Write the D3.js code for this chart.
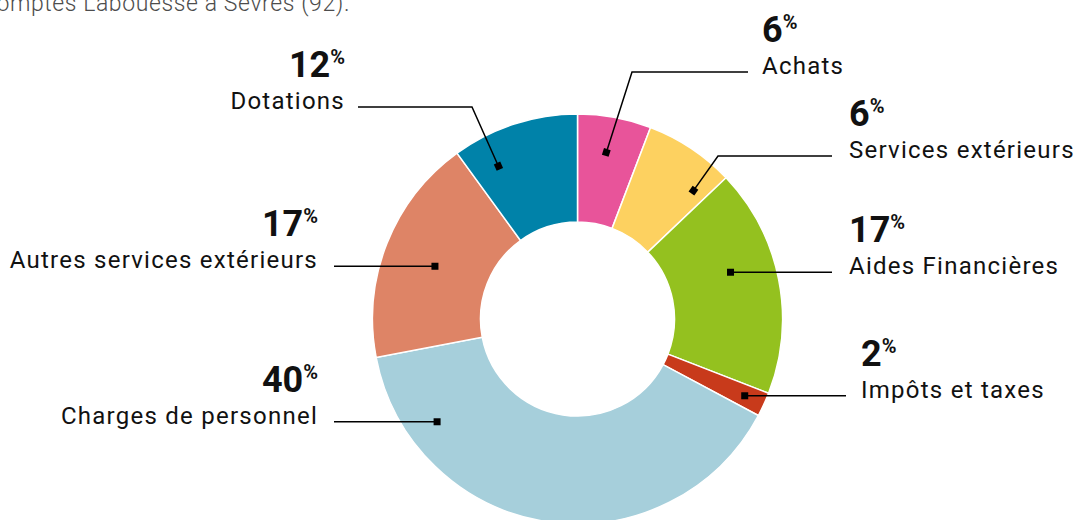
<!DOCTYPE html>
<html>
<head>
<meta charset="utf-8">
<script src="https://cdn.jsdelivr.net/npm/d3@7"></script>
<style>
  html, body { margin: 0; padding: 0; background: #fff; }
  svg { display: block; }
</style>
</head>
<body>
<div id="donut-chart"></div>
<script>
// Data (slice order clockwise from 12 o'clock)
const categories = ["Achats", "Services extérieurs", "Aides Financières", "Impôts et taxes",
                    "Charges de personnel", "Autres services extérieurs", "Dotations"];
const values = [5.8, 7.1, 18.0, 1.9, 39.2, 18.0, 10.0];
const percentLabels = ["6", "6", "17", "2", "40", "17", "12"];
const colors = ["#e8549a", "#fdd160", "#94c11f", "#c83a1b", "#a6cfdb", "#de8466", "#0082a9"];
const sourceNote = "Comptes Labouesse à Sèvres (92).";

function renderDonutChart() {
    const width = 1078;
    const height = 520;
    const cx = 577.5, cy = 319;
    const outerR = 205, innerR = 97;

    const svg = d3.select("#donut-chart").append("svg")
        .attr("width", width)
        .attr("height", height);

    // source note, cut at the top-left like the original
    svg.append("text")
        .attr("x", 350)
        .attr("y", 11)
        .attr("text-anchor", "end")
        .style("font-family", "Roboto, sans-serif")
        .style("font-weight", 300)
        .style("font-size", "23px")
        .style("letter-spacing", "0.6px")
        .style("fill", "#4d4d4d")
        .text(sourceNote);

    const data = categories.map((c, i) => ({ label: c, value: values[i], pct: percentLabels[i], color: colors[i] }));

    const pie = d3.pie().value(d => d.value).sort(null);
    const arcs = pie(data);

    const arcGenerator = d3.arc().innerRadius(innerR).outerRadius(outerR);

    const g = svg.append("g").attr("transform", `translate(${cx},${cy})`);

    g.selectAll(".slice")
        .data(arcs)
        .enter().append("path")
        .attr("class", "slice")
        .attr("d", arcGenerator)
        .attr("fill", d => d.data.color)
        .style("stroke", "#fff")
        .style("stroke-width", "1.5px");

    // annotation layout: where the marker sits inside its slice and where the label goes
    const layout = [
        { t: 0.47, r: 169, lineY: 72,  elbowX: 632, endX: 748, textX: 762, side: "right" },
        { t: 0.83, r: 173, lineY: 156, elbowX: 718, endX: 832, textX: 849, side: "right" },
        { t: 0.41, r: 160, endX: 832, textX: 849, side: "right" },
        { t: 0.50, r: 184, endX: 846, textX: 861, side: "right" },
        { t: 0.82, r: 174, endX: 334, textX: 318, side: "left" },
        { t: 0.48, r: 152, endX: 334, textX: 318, side: "left" },
        { t: 0.24, r: 172, lineY: 107, elbowX: 472, endX: 358, textX: 345, side: "left" }
    ];

    const ann = svg.append("g");

    arcs.forEach((d, i) => {
        const L = layout[i];
        const a = d.startAngle + (d.endAngle - d.startAngle) * L.t;
        const pt = d3.arc().innerRadius(L.r).outerRadius(L.r).startAngle(a).endAngle(a).centroid();
        const mx = cx + pt[0], my = cy + pt[1];
        const lineY = L.lineY !== undefined ? L.lineY : my;

        const pts = [[mx, my]];
        if (L.elbowX !== undefined) pts.push([L.elbowX, lineY]);
        pts.push([L.endX, lineY]);

        ann.append("polyline")
            .attr("points", pts.map(p => p.join(",")).join(" "))
            .style("fill", "none")
            .style("stroke", "#000")
            .style("stroke-width", 1.5);

        // marker square follows the direction of the first leg of its line
        const rot = Math.atan2(pts[1][1] - my, pts[1][0] - mx) * 180 / Math.PI;
        ann.append("rect")
            .attr("x", mx - 3.5)
            .attr("y", my - 3.5)
            .attr("width", 7)
            .attr("height", 7)
            .attr("transform", `rotate(${rot},${mx},${my})`)
            .style("fill", "#000");

        const anchor = L.side === "right" ? "start" : "end";

        ann.append("text")
            .attr("x", L.textX)
            .attr("y", lineY + 2)
            .attr("text-anchor", anchor)
            .style("font-family", "Roboto, sans-serif")
            .style("font-size", "24px")
            .style("letter-spacing", "1.25px")
            .style("fill", "#111")
            .text(d.data.label);

        const pctText = ann.append("text")
            .attr("x", L.textX)
            .attr("y", lineY - 30)
            .attr("text-anchor", anchor)
            .style("font-family", "Roboto, sans-serif")
            .style("font-weight", 700)
            .style("font-size", "36px")
            .style("fill", "#111");
        pctText.append("tspan").text(d.data.pct);
        pctText.append("tspan")
            .attr("dx", 0)
            .attr("dy", -13)
            .style("font-size", "20px")
            .text("%");
    });
}

renderDonutChart();
</script>
</body>
</html>
